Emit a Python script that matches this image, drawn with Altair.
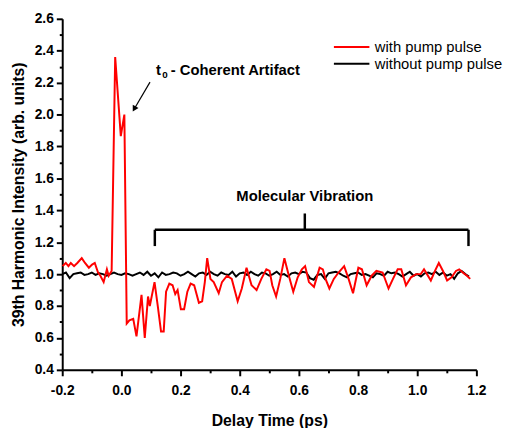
import altair as alt
import pandas as pd

# ---------------- data ----------------
red_x = [-0.199, -0.188, -0.179, -0.171, -0.160, -0.149, -0.134, -0.123, -0.110, -0.099,
         -0.090, -0.079, -0.071, -0.060, -0.049, -0.043, -0.033, -0.021, -0.002, 0.010,
         0.018, 0.027, 0.040, 0.051, 0.068, 0.079, 0.090, 0.096, 0.112, 0.123,
         0.134, 0.143, 0.151, 0.162, 0.173, 0.182, 0.190, 0.201, 0.212, 0.223,
         0.234, 0.246, 0.262, 0.273, 0.282, 0.290, 0.301, 0.312, 0.329, 0.340,
         0.357, 0.373, 0.393, 0.407, 0.423, 0.440, 0.457, 0.473, 0.490, 0.501,
         0.510, 0.523, 0.537, 0.551, 0.566, 0.581, 0.596, 0.610, 0.621, 0.634,
         0.651, 0.670, 0.681, 0.690, 0.703, 0.718, 0.734, 0.753, 0.768, 0.783,
         0.801, 0.813, 0.829, 0.846, 0.862, 0.883, 0.903, 0.918, 0.934, 0.946,
         0.962, 0.979, 0.996, 1.012, 1.023, 1.033, 1.046, 1.060, 1.073, 1.087,
         1.101, 1.116, 1.131, 1.142, 1.154, 1.168, 1.179]
red_y = [1.05, 1.07, 1.05, 1.07, 1.05, 1.07, 1.10, 1.07, 1.04, 1.06,
         1.07, 1.01, 0.99, 0.95, 1.03, 0.99, 1.02, 2.36, 1.865, 2.00,
         0.69, 0.71, 0.72, 0.61, 0.87, 0.60, 0.86, 0.80, 0.95, 0.80,
         0.64, 0.64, 0.89, 0.94, 0.93, 0.875, 0.90, 0.78, 0.78, 0.89,
         0.94, 0.93, 0.82, 0.83, 0.95, 1.10, 0.97, 0.95, 0.88, 0.95,
         0.99, 0.97, 0.83, 0.91, 1.04, 0.93, 0.90, 0.97, 1.03, 1.02,
         0.93, 0.86, 0.97, 1.10, 0.99, 0.89, 0.98, 1.03, 1.05, 0.95,
         0.92, 1.04, 1.03, 0.97, 0.91, 0.97, 1.01, 1.05, 0.97, 0.88,
         1.04, 1.03, 0.93, 0.99, 1.02, 1.01, 0.91, 0.97, 1.03, 1.03,
         0.93, 0.98, 1.00, 1.00, 1.03, 1.00, 0.96, 1.02, 1.07, 1.02,
         0.96, 0.98, 1.02, 1.03, 1.01, 0.99, 0.97]

black_start = -0.2
black_step = 0.0125
black_y = [1.00, 1.01, 0.975, 1.00, 1.005, 1.01, 0.995, 1.00, 1.01, 0.995,
           1.005, 1.00, 0.99, 1.00, 1.01, 1.00, 0.995, 1.005, 1.00, 0.99,
           1.00, 1.01, 0.995, 1.015, 0.99, 1.005, 0.98, 1.01, 0.995, 1.00,
           1.01, 1.005, 0.99, 1.00, 1.015, 1.00, 0.985, 1.005, 1.01, 0.995,
           1.015, 1.00, 0.99, 1.01, 1.00, 0.995, 1.015, 0.985, 1.005, 1.01,
           0.995, 1.015, 1.00, 0.99, 1.01, 1.005, 0.99, 1.00, 1.015, 0.995,
           1.00, 0.985, 1.005, 1.01, 1.00, 1.015, 1.01, 0.975, 0.965, 0.995,
           1.00, 0.97, 1.005, 1.01, 1.015, 1.005, 0.99, 0.98, 1.00, 1.005,
           1.01, 0.995, 1.00, 0.99, 0.98, 1.005, 1.00, 0.99, 1.015, 1.005,
           1.01, 1.00, 0.985, 1.00, 1.015, 0.99, 1.00, 0.985, 1.005, 1.01,
           1.00, 1.015, 0.995, 1.01, 0.99, 1.00, 0.97, 1.005, 1.02, 1.00, 0.985]
black_x = [round(black_start + black_step * i, 4) for i in range(len(black_y))]

series_names = ["with pump pulse", "without pump pulse"]
series_colors = ["#ff0000", "#000000"]

x_major = [-0.2, 0.0, 0.2, 0.4, 0.6, 0.8, 1.0, 1.2]
x_minor = [-0.1, 0.1, 0.3, 0.5, 0.7, 0.9, 1.1]
y_major = [0.4, 0.6, 0.8, 1.0, 1.2, 1.4, 1.6, 1.8, 2.0, 2.2, 2.4, 2.6]
y_minor = [0.5, 0.7, 0.9, 1.1, 1.3, 1.5, 1.7, 1.9, 2.1, 2.3, 2.5]

assert len(red_x) == len(red_y)

red_df = pd.DataFrame({"t": red_x, "v": red_y, "s": series_names[0]})
black_df = pd.DataFrame({"t": black_x, "v": black_y, "s": series_names[1]})

FONT = "Liberation Sans"

x_scale = alt.Scale(domain=[-0.2, 1.2], nice=False, zero=False)
y_scale = alt.Scale(domain=[0.4, 2.6], nice=False, zero=False)

common_axis = dict(
    grid=False, domainColor="black", domainWidth=2, tickColor="black", tickWidth=2,
    labelFont=FONT, labelFontWeight="bold", labelFontSize=14, labelColor="black",
    titleFont=FONT, titleFontWeight="bold", titleFontSize=16, titleColor="black",
    labelOverlap=False, labelFlush=False, labelBound=False,
)

x_axis = alt.Axis(
    values=x_major, title="Delay Time (ps)", orient="bottom", tickSize=6,
    labelExpr="replace(format(datum.value, '.1f'), '\u2212', '-')",
    labelPadding=8, titlePadding=15, **common_axis,
)
y_axis = alt.Axis(
    values=y_major, title="39th Harmonic Intensity (arb. units)", orient="left", tickSize=6,
    format=".1f", labelPadding=3, titlePadding=8, **common_axis,
)
x_minor_axis = alt.Axis(
    values=x_minor, title=None, orient="bottom", tickSize=3, labels=False, domain=False,
    grid=False, tickColor="black", tickWidth=2,
)
y_minor_axis = alt.Axis(
    values=y_minor, title=None, orient="left", tickSize=3, labels=False, domain=False,
    grid=False, tickColor="black", tickWidth=2,
)

color = alt.Color(
    "s:N",
    scale=alt.Scale(domain=series_names, range=series_colors),
    legend=alt.Legend(
        title=None, orient="none", legendX=286, legendY=21,
        symbolType="M-3,0H3", symbolSize=144, symbolStrokeWidth=2,
        labelFont=FONT, labelFontSize=15, labelColor="black",
        labelOffset=16, rowPadding=1, padding=0,
    ),
)

black_line = alt.Chart(black_df).mark_line(strokeWidth=2).encode(
    x=alt.X("t:Q", scale=x_scale, axis=x_axis),
    y=alt.Y("v:Q", scale=y_scale, axis=y_axis),
    color=color,
)
red_line = alt.Chart(red_df).mark_line(strokeWidth=2).encode(
    x=alt.X("t:Q", scale=x_scale, axis=x_minor_axis),
    y=alt.Y("v:Q", scale=y_scale, axis=y_minor_axis),
    color=color,
)

# ---------------- annotations ----------------
bracket_df = pd.DataFrame({
    "x1": [0.113, 0.113, 1.1733, 0.62],
    "x2": [1.1733, 0.113, 1.1733, 0.62],
    "y1": [1.2779, 1.2779, 1.2779, 1.2779],
    "y2": [1.2779, 1.1757, 1.1757, 1.380],
})
bracket = alt.Chart(bracket_df).mark_rule(color="black", strokeWidth=2.5).encode(
    x=alt.X("x1:Q", axis=None), x2="x2:Q", y=alt.Y("y1:Q", axis=None), y2="y2:Q"
)

arrow_df = pd.DataFrame({"x1": [0.0967], "x2": [0.0433], "y1": [2.2034], "y2": [2.0351]})
arrow_line = alt.Chart(arrow_df).mark_rule(color="black", strokeWidth=1.2).encode(
    x=alt.X("x1:Q", axis=None), x2="x2:Q", y=alt.Y("y1:Q", axis=None), y2="y2:Q"
)
arrow_head = alt.Chart(arrow_df).mark_point(
    shape="triangle-up", size=45, filled=True, color="black", opacity=1, angle=210
).encode(x=alt.X("x2:Q", axis=None), y=alt.Y("y2:Q", axis=None))

text_df = pd.DataFrame({
    "x": [0.1167, 0.1667],
    "y": [2.2454, 2.2454],
    "label": ["t", "- Coherent Artifact"],
})
ann_text = alt.Chart(text_df).mark_text(
    font=FONT, fontWeight="bold", fontSize=15, align="left", baseline="alphabetic", color="black"
).encode(x=alt.X("x:Q", axis=None), y=alt.Y("y:Q", axis=None), text="label:N")

sub_df = pd.DataFrame({"x": [0.1383], "y": [2.2274], "label": ["0"]})
sub_text = alt.Chart(sub_df).mark_text(
    font=FONT, fontWeight="bold", fontSize=10, align="left", baseline="alphabetic", color="black"
).encode(x=alt.X("x:Q", axis=None), y=alt.Y("y:Q", axis=None), text="label:N")

mol_df = pd.DataFrame({"x": [0.62], "y": [1.4582], "label": ["Molecular Vibration"]})
mol_text = alt.Chart(mol_df).mark_text(
    font=FONT, fontWeight="bold", fontSize=15, align="center", baseline="alphabetic", color="black"
).encode(x=alt.X("x:Q", axis=None), y=alt.Y("y:Q", axis=None), text="label:N")

chart = alt.layer(
    black_line, red_line, bracket, arrow_line, arrow_head, ann_text, sub_text, mol_text
).resolve_axis(
    x="independent", y="independent"
).properties(
    width=420, height=356,
    autosize=alt.AutoSizeParams(type="none"),
    padding={"left": 55, "top": 8, "right": 28, "bottom": 56},
    background="white",
).configure_view(stroke=None)

chart.save("out.html", embed_options={"renderer": "svg", "actions": False})
